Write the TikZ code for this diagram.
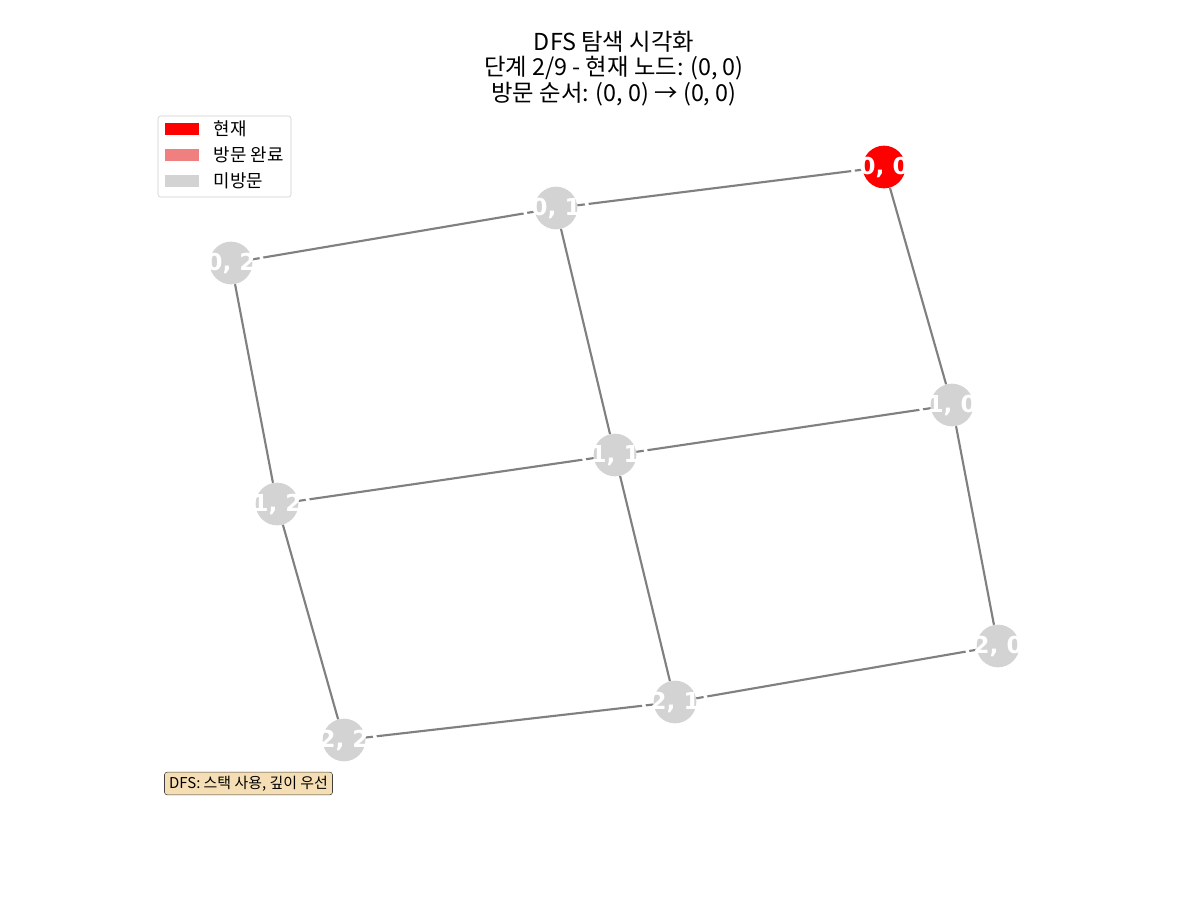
\documentclass[tikz,border=0pt]{standalone}
\usepackage{fontspec}
\setmainfont{Noto Sans CJK KR}
\newfontfamily\labelfont{DejaVu Sans}
\usetikzlibrary{shapes}
\usetikzlibrary{arrows}

\definecolor{visited}{HTML}{F08080}
\definecolor{unvisited}{HTML}{D3D3D3}
\definecolor{boxfill}{HTML}{F5DEB3}
\definecolor{edgegray}{HTML}{808080}

\tikzset{
  gridnode/.style={circle, minimum size=32pt, inner sep=0pt, fill=unvisited},
  current/.style={gridnode, fill=red},
  nodetext/.style={text=white, font=\labelfont\bfseries\fontsize{17.5}{17.5}\selectfont},
  link/.style={draw=edgegray, line width=1.6pt},
  titletext/.style={anchor=base, font=\fontsize{17.5}{17.5}\selectfont},
  legpatch/.style={inner sep=0pt, minimum width=25.5pt, minimum height=8.5pt},
  legtext/.style={anchor=west, font=\fontsize{13.4}{13.4}\selectfont}
}

\begin{document}
\begin{tikzpicture}[x=0.75pt, y=-0.75pt]
\useasboundingbox (0,0) rectangle (1200,900);

% title
\node[titletext] (title1) at (614,50) {DFS 탐색 시각화};
\node[titletext] (title2) at (614,75.5) {단계 2/9 - 현재 노드: (0, 0)};
\node[titletext] (title3) at (614,101) {방문 순서: (0, 0) → (0, 0)};

% nodes
\node[current] (n00) at (884,167) {};
\node[gridnode] (n01) at (556,208) {};
\node[gridnode] (n02) at (231,263) {};
\node[gridnode] (n10) at (952,405) {};
\node[gridnode] (n11) at (615,455) {};
\node[gridnode] (n12) at (277,504) {};
\node[gridnode] (n20) at (998,646) {};
\node[gridnode] (n21) at (675,702) {};
\node[gridnode] (n22) at (344,740) {};

% edges
\draw[link] (n00) -- (n01) (n01) -- (n02);
\draw[link] (n10) -- (n11) (n11) -- (n12);
\draw[link] (n20) -- (n21) (n21) -- (n22);
\draw[link] (n00) -- (n10) (n10) -- (n20);
\draw[link] (n01) -- (n11) (n11) -- (n21);
\draw[link] (n02) -- (n12) (n12) -- (n22);

% labels
\node[nodetext] (t00) at (n00) {(0, 0)};
\node[nodetext] (t01) at (n01) {(0, 1)};
\node[nodetext] (t02) at (n02) {(0, 2)};
\node[nodetext] (t10) at (n10) {(1, 0)};
\node[nodetext] (t11) at (n11) {(1, 1)};
\node[nodetext] (t12) at (n12) {(1, 2)};
\node[nodetext] (t20) at (n20) {(2, 0)};
\node[nodetext] (t21) at (n21) {(2, 1)};
\node[nodetext] (t22) at (n22) {(2, 2)};

% legend
\draw[draw=black!20, fill=white, rounded corners=2pt] (158,116) rectangle (291,197);
\node[legpatch, fill=red] (p1) at (182,129) {};
\node[legpatch, fill=visited] (p2) at (182,155) {};
\node[legpatch, fill=unvisited] (p3) at (182,181) {};
\node[legtext] (l1) at (209,129) {현재};
\node[legtext] (l2) at (209,155) {방문 완료};
\node[legtext] (l3) at (209,181) {미방문};

% info box
\node[draw=black!75, fill=boxfill, rounded corners=2pt, inner xsep=3.5pt, inner ysep=0pt, minimum height=17pt, font=\fontsize{11.2}{11.2}\selectfont] (info) at (248.5,783.5) {DFS: 스택 사용, 깊이 우선};
\end{tikzpicture}
\end{document}
